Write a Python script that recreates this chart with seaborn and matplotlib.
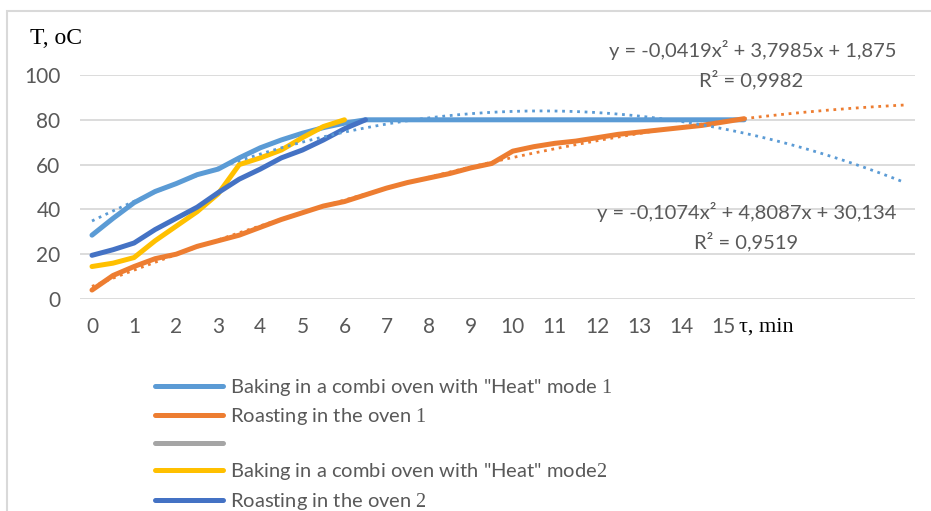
import numpy as np
import pandas as pd
import matplotlib
matplotlib.use('Agg')
import matplotlib.pyplot as plt
import seaborn as sns
from matplotlib.lines import Line2D
from matplotlib.patches import Rectangle

sns.set_theme(style='white')
plt.rcParams['font.family'] = ['Lato', 'DejaVu Sans']
plt.rcParams['mathtext.fontset'] = 'custom'
plt.rcParams['mathtext.rm'] = 'Liberation Serif'
plt.rcParams['mathtext.it'] = 'Liberation Serif'

# time in minutes (half-minute steps), temperature in degrees C
minutes = np.arange(0, 16, 0.5)
combi_1 = [28.5, 36, 43, 48, 51.5, 55.5, 58, 63, 67.5, 71, 74, 76.5, 78.5, 80,
           80, 80, 80, 80, 80, 80, 80, 80, 80, 80, 80, 80, 80, 80, 80, 80, 80, 80]
oven_1 = [4, 10.5, 14.5, 18, 20, 23.5, 26, 28.5, 32, 35.5, 38.5, 41.5, 43.5, 46.5,
          49.5, 52, 54, 56, 58.5, 60.5, 66, 68, 69.5, 70.5, 72, 73.5, 74.5, 75.5,
          76.5, 77.5, 79, 80.5]
combi_2 = [14.5, 16, 18.5, 26, 32.5, 39, 47, 60, 63, 66.5, 72, 77, 80]
oven_2 = [19.5, 22, 25, 31, 36, 41, 47.5, 53.5, 58, 63, 66.5, 71, 76, 80]

# Excel polynomial trendlines (x = point number, starting at 1)
trend_oven_1 = [-0.0419, 3.7985, 1.875]
trend_combi_1 = [-0.1074, 4.8087, 30.134]
trend_end = 19.3

labels = ['Baking in a combi oven with "Heat" mode $1$',
          'Roasting in the oven $1$',
          ' ',
          'Baking in a combi oven with "Heat" mode$2$',
          'Roasting in the oven $2$']
colors = ['#5B9BD5', '#ED7D31', '#A5A5A5', '#FFC000', '#4472C4']
txt_gray = '#595959'

W, H = 931, 511
fig = plt.figure(figsize=(W / 100, H / 100), dpi=100)
ax = fig.add_axes([80 / W, 1 - 299 / H, (915 - 80) / W, (299 - 75) / H])

lw = 3.6
sns.lineplot(x=minutes, y=combi_1, ax=ax, color=colors[0], lw=lw, solid_capstyle='round')
sns.lineplot(x=minutes, y=oven_1, ax=ax, color=colors[1], lw=lw, solid_capstyle='round')
sns.lineplot(x=minutes[:len(combi_2)], y=combi_2, ax=ax, color=colors[3], lw=lw,
             solid_capstyle='round')
sns.lineplot(x=minutes[:len(oven_2)], y=oven_2, ax=ax, color=colors[4], lw=lw,
             solid_capstyle='round')

t_fit = np.linspace(0, trend_end, 300)
n_fit = t_fit / 0.5 + 1
for coefs, c in [(trend_combi_1, colors[0]), (trend_oven_1, colors[1])]:
    ax.plot(t_fit, np.polyval(coefs, n_fit), color=c, lw=2, ls=(0, (1, 1.7)),
            dash_capstyle='butt', zorder=3)

ax.set_xlim(-0.285, 19.56)
ax.set_ylim(0, 100)
ax.set_yticks(range(0, 101, 20))
ax.set_xticks(range(0, 16))
ax.grid(axis='y', color='#D9D9D9', lw=1.3)
ax.grid(axis='x', visible=False)
for s in ax.spines.values():
    s.set_visible(False)
ax.tick_params(length=0, labelsize=15, labelcolor=txt_gray)
ax.tick_params(axis='y', pad=14)
ax.tick_params(axis='x', pad=13)

# axis titles
fig.text(30 / W, 1 - 38 / H, 'T, oC', family='Liberation Serif', fontsize=17,
         color='black', va='center', ha='left')
fig.text(739 / W, 1 - 327 / H, 'τ, min', family='Liberation Serif', fontsize=16,
         color='black', va='center', ha='left')

# trendline equations
eq_kw = dict(fontsize=14.5, color=txt_gray, ha='center', va='center')
fig.text(753 / W, 1 - 50 / H, 'y = -0,0419x² + 3,7985x + 1,875', **eq_kw)
fig.text(751 / W, 1 - 80 / H, 'R² = 0,9982', **eq_kw)
fig.text(747 / W, 1 - 212 / H, 'y = -0,1074x² + 4,8087x + 30,134', **eq_kw)
fig.text(746 / W, 1 - 242 / H, 'R² = 0,9519', **eq_kw)

handles = [Line2D([], [], color=c, lw=lw, solid_capstyle='round') for c in colors]
fig.legend(handles, labels, loc='upper left', bbox_to_anchor=(155 / W, 1 - 377 / H),
           frameon=False, fontsize=14.5, handlelength=3.4, handletextpad=0.3,
           labelspacing=0.42, borderpad=0, borderaxespad=0, labelcolor=txt_gray)

# chart area border (cropped)
fig.add_artist(Rectangle((7 / W, -0.05), 1.1, 1 - 11 / H + 0.05, transform=fig.transFigure,
                         fill=False, edgecolor='#D9D9D9', lw=1.5))

fig.savefig('out.png', dpi=100)
